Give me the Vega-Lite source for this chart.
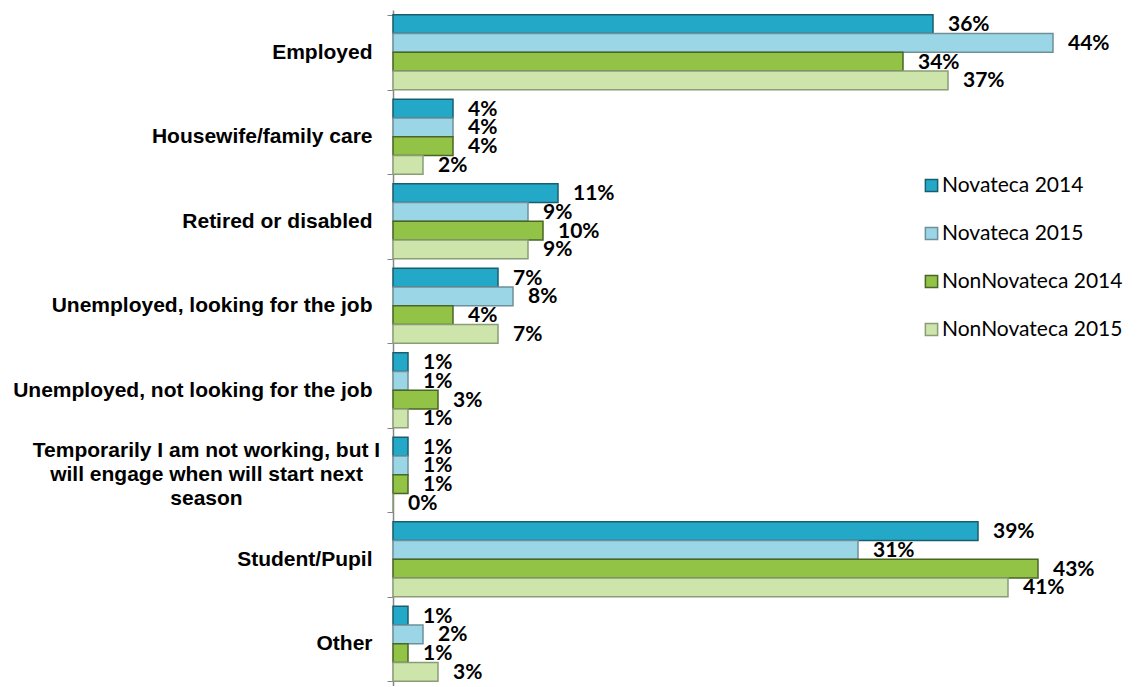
{
  "$schema": "https://vega.github.io/schema/vega-lite/v6.json",
  "autosize": {"type": "none"},
  "padding": {"left": 393, "top": 10, "right": 0, "bottom": 0},
  "width": 745,
  "height": 676,
  "background": "white",
  "config": {"view": {"stroke": null}},
  "data": {"values": [
    {"category": "Employed", "series": "Novateca 2014", "value": 0.36},
    {"category": "Employed", "series": "Novateca 2015", "value": 0.44},
    {"category": "Employed", "series": "NonNovateca 2014", "value": 0.34},
    {"category": "Employed", "series": "NonNovateca 2015", "value": 0.37},
    {"category": "Housewife/family care", "series": "Novateca 2014", "value": 0.04},
    {"category": "Housewife/family care", "series": "Novateca 2015", "value": 0.04},
    {"category": "Housewife/family care", "series": "NonNovateca 2014", "value": 0.04},
    {"category": "Housewife/family care", "series": "NonNovateca 2015", "value": 0.02},
    {"category": "Retired or disabled", "series": "Novateca 2014", "value": 0.11},
    {"category": "Retired or disabled", "series": "Novateca 2015", "value": 0.09},
    {"category": "Retired or disabled", "series": "NonNovateca 2014", "value": 0.10},
    {"category": "Retired or disabled", "series": "NonNovateca 2015", "value": 0.09},
    {"category": "Unemployed, looking for the job", "series": "Novateca 2014", "value": 0.07},
    {"category": "Unemployed, looking for the job", "series": "Novateca 2015", "value": 0.08},
    {"category": "Unemployed, looking for the job", "series": "NonNovateca 2014", "value": 0.04},
    {"category": "Unemployed, looking for the job", "series": "NonNovateca 2015", "value": 0.07},
    {"category": "Unemployed, not looking for the job", "series": "Novateca 2014", "value": 0.01},
    {"category": "Unemployed, not looking for the job", "series": "Novateca 2015", "value": 0.01},
    {"category": "Unemployed, not looking for the job", "series": "NonNovateca 2014", "value": 0.03},
    {"category": "Unemployed, not looking for the job", "series": "NonNovateca 2015", "value": 0.01},
    {"category": "Temporarily I am not working, but I will engage when will start next season", "series": "Novateca 2014", "value": 0.01},
    {"category": "Temporarily I am not working, but I will engage when will start next season", "series": "Novateca 2015", "value": 0.01},
    {"category": "Temporarily I am not working, but I will engage when will start next season", "series": "NonNovateca 2014", "value": 0.01},
    {"category": "Temporarily I am not working, but I will engage when will start next season", "series": "NonNovateca 2015", "value": 0.0},
    {"category": "Student/Pupil", "series": "Novateca 2014", "value": 0.39},
    {"category": "Student/Pupil", "series": "Novateca 2015", "value": 0.31},
    {"category": "Student/Pupil", "series": "NonNovateca 2014", "value": 0.43},
    {"category": "Student/Pupil", "series": "NonNovateca 2015", "value": 0.41},
    {"category": "Other", "series": "Novateca 2014", "value": 0.01},
    {"category": "Other", "series": "Novateca 2015", "value": 0.02},
    {"category": "Other", "series": "NonNovateca 2014", "value": 0.01},
    {"category": "Other", "series": "NonNovateca 2015", "value": 0.03}
  ]},
  "encoding": {
    "y": {
      "field": "category",
      "type": "nominal",
      "sort": null,
      "scale": {"paddingInner": 0.1124, "paddingOuter": 0.0562},
      "axis": {
        "title": null,
        "tickBand": "extent",
        "tickSize": 6,
        "tickColor": "#868686",
        "domainColor": "#868686",
        "domainWidth": 1.5,
        "labelFont": "Liberation Sans",
        "labelFontWeight": "bold",
        "labelFontSize": 21,
        "labelColor": "#000000",
        "labelPadding": {"condition": {"test": "datum.value == 'Temporarily I am not working, but I will engage when will start next season'", "value": 181}, "value": 15},
        "labelAlign": {"condition": {"test": "datum.value == 'Temporarily I am not working, but I will engage when will start next season'", "value": "center"}, "value": "right"},
        "labelLineHeight": 24,
        "labelLimit": 400,
        "labelOffset": {"condition": {"test": "datum.value == 'Temporarily I am not working, but I will engage when will start next season'", "value": -24}, "value": 0},
        "labelExpr": "datum.value == 'Temporarily I am not working, but I will engage when will start next season' ? ['Temporarily I am not working, but I', 'will engage when will start next', 'season'] : datum.value"
      }
    },
    "yOffset": {
      "field": "series",
      "type": "nominal",
      "sort": ["Novateca 2014", "Novateca 2015", "NonNovateca 2014", "NonNovateca 2015"],
      "scale": {"paddingInner": 0, "paddingOuter": 0}
    },
    "x": {
      "field": "value",
      "type": "quantitative",
      "scale": {"domain": [0, 0.49667], "nice": false, "zero": true},
      "axis": null
    }
  },
  "layer": [
    {
      "mark": {"type": "bar", "strokeWidth": 1.5},
      "encoding": {
        "fill": {
          "field": "series",
          "type": "nominal",
          "sort": ["Novateca 2014", "Novateca 2015", "NonNovateca 2014", "NonNovateca 2015"],
          "scale": {"domain": ["Novateca 2014", "Novateca 2015", "NonNovateca 2014", "NonNovateca 2015"], "range": ["#24A8C8", "#9AD6E6", "#92C246", "#CDE4AB"]},
          "legend": {
            "title": null,
            "orient": "none",
            "legendX": 528,
            "legendY": 165,
            "symbolType": "square",
            "symbolSize": 150,
            "symbolStrokeWidth": 1.5,
            "labelFont": "Lato",
            "labelFontSize": 21,
            "labelColor": "#000000",
            "labelOffset": 0,
            "labelLimit": 400,
            "rowPadding": 26
          }
        },
        "stroke": {
          "field": "series",
          "type": "nominal",
          "sort": ["Novateca 2014", "Novateca 2015", "NonNovateca 2014", "NonNovateca 2015"],
          "scale": {"domain": ["Novateca 2014", "Novateca 2015", "NonNovateca 2014", "NonNovateca 2015"], "range": ["#1A5E6E", "#6F8F99", "#4A6626", "#8A9C78"]},
          "legend": {
            "title": null,
            "orient": "none",
            "legendX": 528,
            "legendY": 165,
            "symbolType": "square",
            "symbolSize": 150,
            "symbolStrokeWidth": 1.5,
            "labelFont": "Lato",
            "labelFontSize": 21,
            "labelColor": "#000000",
            "labelOffset": 0,
            "labelLimit": 400,
            "rowPadding": 26
          }
        }
      }
    },
    {
      "mark": {"type": "text", "align": "left", "baseline": "middle", "dx": 15, "dy": 1, "font": "Lato", "fontWeight": "bold", "fontSize": 21, "color": "#000000"},
      "encoding": {
        "text": {"field": "value", "type": "quantitative", "format": ".0%"}
      }
    }
  ]
}
